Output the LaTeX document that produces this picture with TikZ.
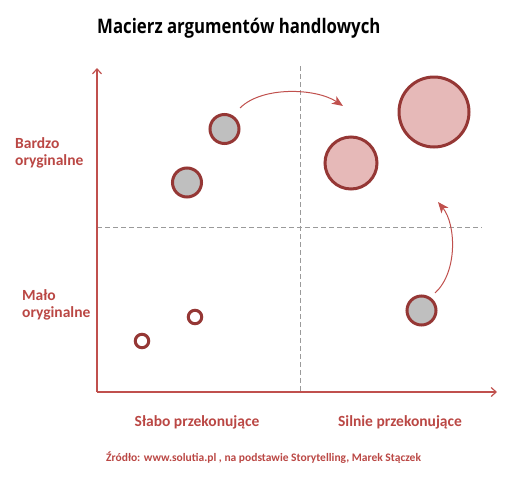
\documentclass[tikz,border=0pt]{standalone}
\usepackage{fontspec}
\setmainfont{Carlito}
\newfontfamily\titlefont[FakeStretch=0.84]{Open Sans}
\usetikzlibrary{arrows.meta}
\definecolor{axisred}{HTML}{C0504D}
\definecolor{rimred}{HTML}{953735}
\definecolor{pinkfill}{HTML}{E6B9B8}
\definecolor{greyfill}{HTML}{BFBFBF}
\definecolor{labelred}{HTML}{BA4744}
\definecolor{dashgrey}{HTML}{9A9A9A}
\tikzset{
  titletext/.style={font=\titlefont\bfseries\fontsize{20}{24}\selectfont, inner sep=0pt},
  axislabel/.style={text=labelred, font=\bfseries\fontsize{15.5}{17}\selectfont, inner sep=0pt, align=left},
  sourcetext/.style={text=labelred, font=\bfseries\fontsize{11.5}{13}\selectfont, inner sep=0pt},
  axis/.style={draw=axisred, line width=1.2pt, -{Straight Barb[length=5pt,width=9pt]}},
  quad/.style={draw=dashgrey, line width=0.9pt, dash pattern=on 5pt off 3pt},
  bubble/.style={circle, draw=rimred, line width=3pt, inner sep=0pt},
  weak/.style={bubble, fill=greyfill, minimum size=29pt},
  strong/.style={bubble, fill=pinkfill},
  hollow/.style={bubble, fill=white, minimum size=13.5pt},
  move/.style={draw=axisred, line width=1pt, -{Stealth[length=11pt,width=9pt,inset=3pt]}}
}
\begin{document}
\begin{tikzpicture}[x=1pt,y=-1pt]
  \useasboundingbox (0,0) rectangle (508,490);
  % Title
  \node[titletext, anchor=base west] (title) at (97,33) {Macierz argumentów handlowych};
  % Quadrant lines
  \coordinate (vtop) at (300,66);
  \coordinate (vbot) at (300,392);
  \coordinate (hleft) at (97,227);
  \coordinate (hright) at (482,227);
  \draw[quad] (vtop) -- (vbot);
  \draw[quad] (hleft) -- (hright);
  % Axes
  \coordinate (origin) at (97,392);
  \draw[axis] (origin) -- (97,68) coordinate (ytip);
  \draw[axis] (origin) -- (497,392) coordinate (xtip);
  % Axis labels (base = last line)
  \node[axislabel, anchor=base west] (hiorig) at (15,165) {Bardzo\\oryginalne};
  \node[axislabel, anchor=base west] (loorig) at (22,317) {Mało\\oryginalne};
  \node[axislabel, anchor=base] (weakarg) at (197,426) {Słabo przekonujące};
  \node[axislabel, anchor=base] (strongarg) at (400,426) {Silnie przekonujące};
  % Arguments
  \node[hollow] (a1) at (142,341) {};
  \node[hollow] (a2) at (195,317) {};
  \node[weak] (b1) at (187,182.5) {};
  \node[weak] (b2) at (224.5,129) {};
  \node[weak] (c1) at (421.5,310.5) {};
  \node[strong, minimum size=52pt] (d1) at (351,163) {};
  \node[strong, minimum size=70pt] (d2) at (434,112) {};
  % Moves
  \coordinate (m1s) at (240,108);
  \coordinate (m1e) at (343,106);
  \draw[move] (m1s) .. controls (262,86) and (316,88) .. (m1e);
  \coordinate (m2s) at (435,293);
  \coordinate (m2e) at (438,202);
  \draw[move] (m2s) .. controls (458,272) and (456,224) .. (m2e);
  % Source
  \node[sourcetext, anchor=base west] (source) at (106,461) {Źródło: www.solutia.pl , na podstawie Storytelling, Marek Stączek};
\end{tikzpicture}
\end{document}
